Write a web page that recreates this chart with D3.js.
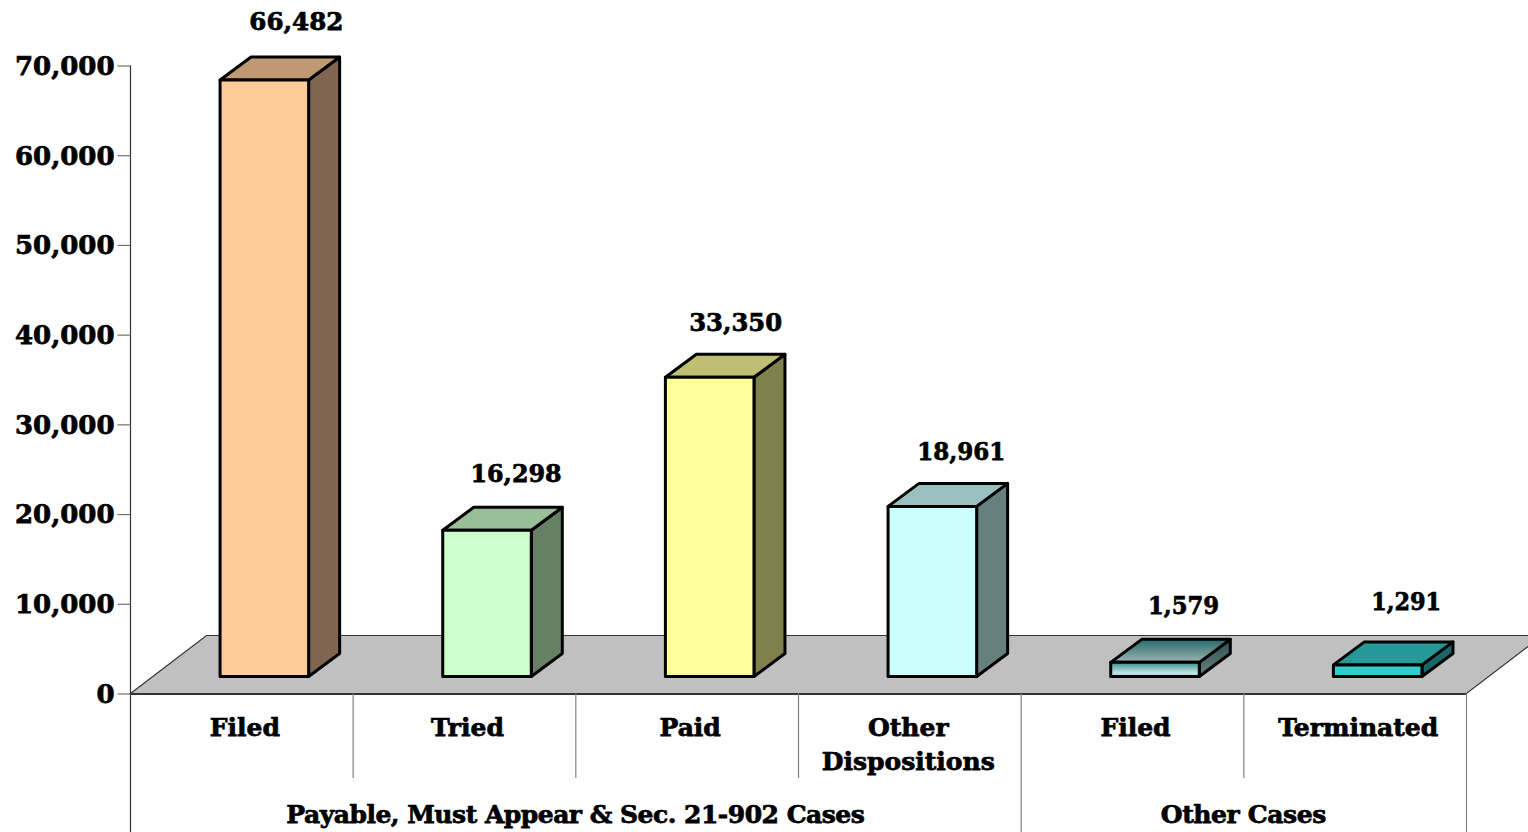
<!DOCTYPE html>
<html><head><meta charset="utf-8">
<script src="https://cdn.jsdelivr.net/npm/d3@7/dist/d3.min.js"></script>
<style>html,body{margin:0;padding:0;background:#fff;overflow:hidden}svg{display:block}
text{font-family:"DejaVu Serif",serif;font-weight:700;fill:#000;stroke:#000;stroke-width:0.75px}</style></head><body>
<svg id="c" width="1528" height="832"></svg>
<script>
const categories=["Filed","Tried","Paid","Other\nDispositions","Filed","Terminated"];
const values=[66482,16298,33350,18961,1579,1291];
const groupNames=["Payable, Must Appear & Sec. 21-902 Cases","Other Cases"];
const groupSpans=[[0,3],[4,5]];
const frontColors=["#FFCC99","#CCFFCC","#FFFF99","#CCFFFF","url(#g5front)","#33CCCC"];
const topColors=["#BF9973","#99BF99","#BFBF73","#99BFBF","url(#g5top)","#269999"];
const sideColors=["#806650","#668066","#80804D","#668080","url(#g5side)","#1A6666"];
const yTicks=[0,10000,20000,30000,40000,50000,60000,70000];
const labelNudgeX=[3,0,-3,0,-0.5,-0.5];
const labelNudgeY=[-2.5,-0.5,1.5,1.5,-0.5,-7];
const labelWidths=[94,91,93,88,71,70];

const FONT=25, TICKFONT=26, svg=d3.select("#c");
const L=130.5,R=1466.5,Y0=693.5,Y70=65.5;
const x=d3.scaleBand().domain(d3.range(categories.length)).range([L,R]);
const y=d3.scaleLinear().domain([0,70000]).range([Y0,Y70]);
const barW=x.step()*0.4-0.5, barOff=x.step()*0.4+0.5;
const floorDX=76, floorDY=-58, depthDX=31, depthDY=-23, baseLift=17;

const defs=svg.append("defs");
function grad(id,stops){const g=defs.append("linearGradient").attr("id",id).attr("x1",0).attr("y1",0).attr("x2",0).attr("y2",1);
  stops.forEach(s=>g.append("stop").attr("offset",s[0]).attr("stop-color",s[1]));}
grad("g5front",[[0,"#3A8C8C"],[0.75,"#BFE6E6"],[1,"#96CFCF"]]);
grad("g5top",[[0,"#236A6A"],[1,"#A0B4B4"]]);
grad("g5side",[[0,"#2B5050"],[1,"#6A8080"]]);

// floor
svg.append("polygon").attr("fill","#C0C0C0").attr("stroke","#333").attr("stroke-width",1.2)
  .attr("points",[[L,Y0],[L+floorDX,Y0+floorDY],[R+floorDX,Y0+floorDY],[R,Y0]].join(" "));
svg.append("line").attr("x1",L).attr("x2",R).attr("y1",Y0+0.5).attr("y2",Y0+0.5).attr("stroke","#333").attr("stroke-width",2);

// y axis
const ax=svg.append("g").attr("transform",`translate(${L},0)`)
  .call(d3.axisLeft(y).tickValues(yTicks).tickFormat(d3.format(",")).tickSize(13).tickPadding(3));
ax.selectAll(".tick line").attr("stroke","#707070").attr("stroke-width",1.2);
ax.select(".domain").attr("d",`M0,${Y70}V${832}`).attr("stroke","#333").attr("stroke-width",1.2);
ax.selectAll("text").style("font-family",'"DejaVu Serif",serif').style("font-weight",700).style("font-size",TICKFONT+"px").attr("fill","#000").attr("y",0.5);

// bars
const bars=svg.append("g").selectAll("g").data(values).join("g").attr("stroke","#000").attr("stroke-width",3).attr("stroke-linejoin","round");
const bx=i=>x(i)+barOff, by=d=>y(d)-baseLift, bb=Y0-baseLift;
bars.append("polygon").attr("fill",(d,i)=>sideColors[i]).attr("points",(d,i)=>{const a=bx(i)+barW;return [[a,by(d)],[a+depthDX,by(d)+depthDY],[a+depthDX,bb+depthDY],[a,bb]].join(" ")});
bars.append("polygon").attr("fill",(d,i)=>topColors[i]).attr("points",(d,i)=>{const a=bx(i);return [[a,by(d)],[a+depthDX,by(d)+depthDY],[a+barW+depthDX,by(d)+depthDY],[a+barW,by(d)]].join(" ")});
bars.append("rect").attr("fill",(d,i)=>frontColors[i]).attr("x",(d,i)=>bx(i)).attr("y",d=>by(d)).attr("width",barW).attr("height",d=>bb-by(d));

// value labels
svg.append("g").selectAll("text").data(values).join("text").attr("text-anchor","middle").style("font-size",FONT+"px")
  .attr("textLength",(d,i)=>labelWidths[i]).attr("lengthAdjust","spacingAndGlyphs")
  .attr("x",(d,i)=>bx(i)+barW/2+29+labelNudgeX[i]).attr("y",(d,i)=>by(d)+depthDY-25+labelNudgeY[i]).text(d3.format(","));

// category axis
const tickColor="#808080";
d3.range(1,categories.length).forEach(i=>{ if(!groupSpans.some(s=>s[0]===i))
  svg.append("line").attr("x1",x(i)).attr("x2",x(i)).attr("y1",Y0).attr("y2",778).attr("stroke",tickColor).attr("stroke-width",1.2);});
groupSpans.forEach(s=>{const xe=x(s[1])+x.step();
  svg.append("line").attr("x1",xe).attr("x2",xe).attr("y1",Y0).attr("y2",832).attr("stroke",tickColor).attr("stroke-width",1.2);});
categories.forEach((c,i)=>{const t=svg.append("text").attr("text-anchor","middle").style("font-size",FONT+"px");
  c.split("\n").forEach((l,k)=>t.append("tspan").attr("x",x(i)+x.bandwidth()/2+(c.includes("\n")?-1.5:3)).attr("y",736+k*34).text(l));});
groupNames.forEach((g,i)=>{const s=groupSpans[i];
  svg.append("text").attr("text-anchor","middle").style("font-size",FONT+"px").style("letter-spacing",i?"-0.4px":"-0.5px")
   .attr("x",(x(s[0])+x(s[1])+x.step())/2-0.5).attr("y",823).text(g);});
</script></body></html>
